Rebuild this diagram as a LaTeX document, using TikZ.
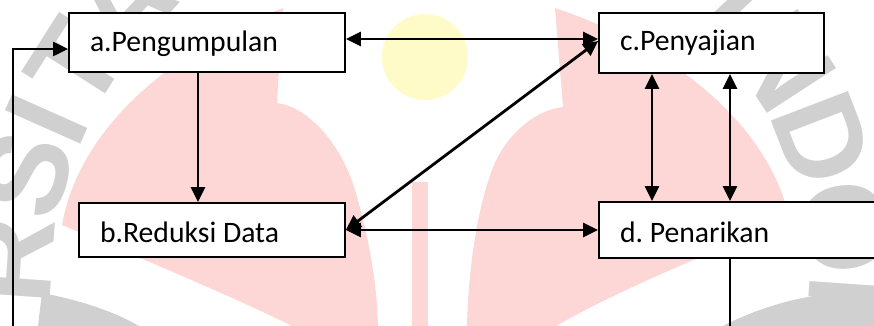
\documentclass[tikz,border=0pt]{standalone}
\usepackage{fontspec}
\setmainfont{Carlito}
\newfontfamily\ringfont{Liberation Sans}
\usetikzlibrary{arrows.meta,calc}
\definecolor{wmpink}{RGB}{253,214,214}
\definecolor{wmgray}{RGB}{208,208,208}
\definecolor{wmyellow}{RGB}{255,251,200}
\frenchspacing
\begin{document}
\begin{tikzpicture}[x=1pt,y=-1pt,
  stagebox/.style={draw=black, line width=1.8pt, fill=white, inner xsep=21pt,
    inner ysep=0pt, align=flush left, text depth=0pt,
    font=\fontsize{29.7}{34}\selectfont},
  onearrow/.style={line width=2.8pt, -{Triangle[length=15pt,width=14pt]}},
  twoarrow/.style={line width=2.8pt, {Triangle[length=15pt,width=14pt]}-{Triangle[length=15pt,width=14pt]}},
  ringletter/.style={text=wmgray, font=\ringfont\bfseries\fontsize{120}{120}\selectfont, inner sep=0pt}
]
\useasboundingbox (0,0) rectangle (874,326);
\clip (0,0) rectangle (874,326);

% --- watermark: lettering ring ---
\coordinate (ring) at (430,290);
\foreach \ch/\ang [count=\i] in {R/176, S/164, I/156, T/147.5, A/137, S/126, I/43, N/33, D/21, O/8.5, N/-4}
  \node[ringletter, rotate=\ang-90] (ring\i) at ($(ring)+(-\ang:420)$) {\ch};

% --- watermark: grey swooshes at the foot ---
\fill[wmgray] (38,326) -- (42,293) .. controls (80,300) and (115,312) .. (139,326) -- cycle;
\fill[wmgray] (723,326) .. controls (750,312) and (780,302) .. (808,297) -- (874,289) -- (874,326) -- cycle;

% --- watermark: flame shapes, bar and sun ---
\fill[wmpink] (283,8) -- (277,103)
  .. controls (305,106) and (340,140) .. (355,190)
  .. controls (368,235) and (377,280) .. (378,326)
  -- (292,326)
  .. controls (240,300) and (150,262) .. (62,225)
  .. controls (78,135) and (160,55) .. (283,8) -- cycle;
\fill[wmpink] (555,8) -- (563,107)
  .. controls (535,110) and (505,135) .. (492,170)
  .. controls (475,215) and (468,280) .. (467,326)
  -- (556,326)
  .. controls (610,295) and (700,255) .. (790,222)
  .. controls (772,130) and (680,50) .. (555,8) -- cycle;
\fill[wmpink] (412,182) rectangle (428,326);
\fill[wmyellow] (425,57) circle[radius=43];

% --- stages ---
\node[stagebox, text width=234pt, minimum height=59pt, text height=19pt] (a) at (207,42.5) {a.Pengumpulan};
\node[stagebox, text width=224pt, minimum height=54pt, text height=24pt] (b) at (212,230) {b.Reduksi Data};
\node[stagebox, text width=183pt, minimum height=60pt, text height=16pt] (c) at (711.5,43) {c.Penyajian};
\node[stagebox, text width=259pt, minimum height=56pt, text height=24pt] (d) at (749.5,230) {d. Penarikan};

% --- free ends leaving the frame at the bottom ---
\coordinate (dout) at (730,332);
\coordinate (fbin) at (13,332);

% --- connectors ---
\draw[twoarrow] ([yshift=3.5pt]a.east) -- ([yshift=3.5pt]a.east -| c.west);
\draw[onearrow] ([xshift=-9pt]a.south) -- ([xshift=-9pt]a.south |- b.north);
\draw[twoarrow] (b.east) -- ([yshift=2pt]c.west);
\draw[twoarrow] (b.east) -- (b.east -| d.west);
\draw[twoarrow] ([xshift=-59.5pt]c.south) -- ([xshift=-59.5pt]c.south |- d.north);
\draw[twoarrow] ([xshift=18.5pt]c.south) -- ([xshift=18.5pt]c.south |- d.north);
\draw[line width=2.2pt] ([xshift=-19.5pt]d.south) -- (dout);
\draw[line width=2.2pt, -{Triangle[length=15pt,width=14pt]}] (fbin) |- ([yshift=-6.5pt]a.west);
\end{tikzpicture}
\end{document}
